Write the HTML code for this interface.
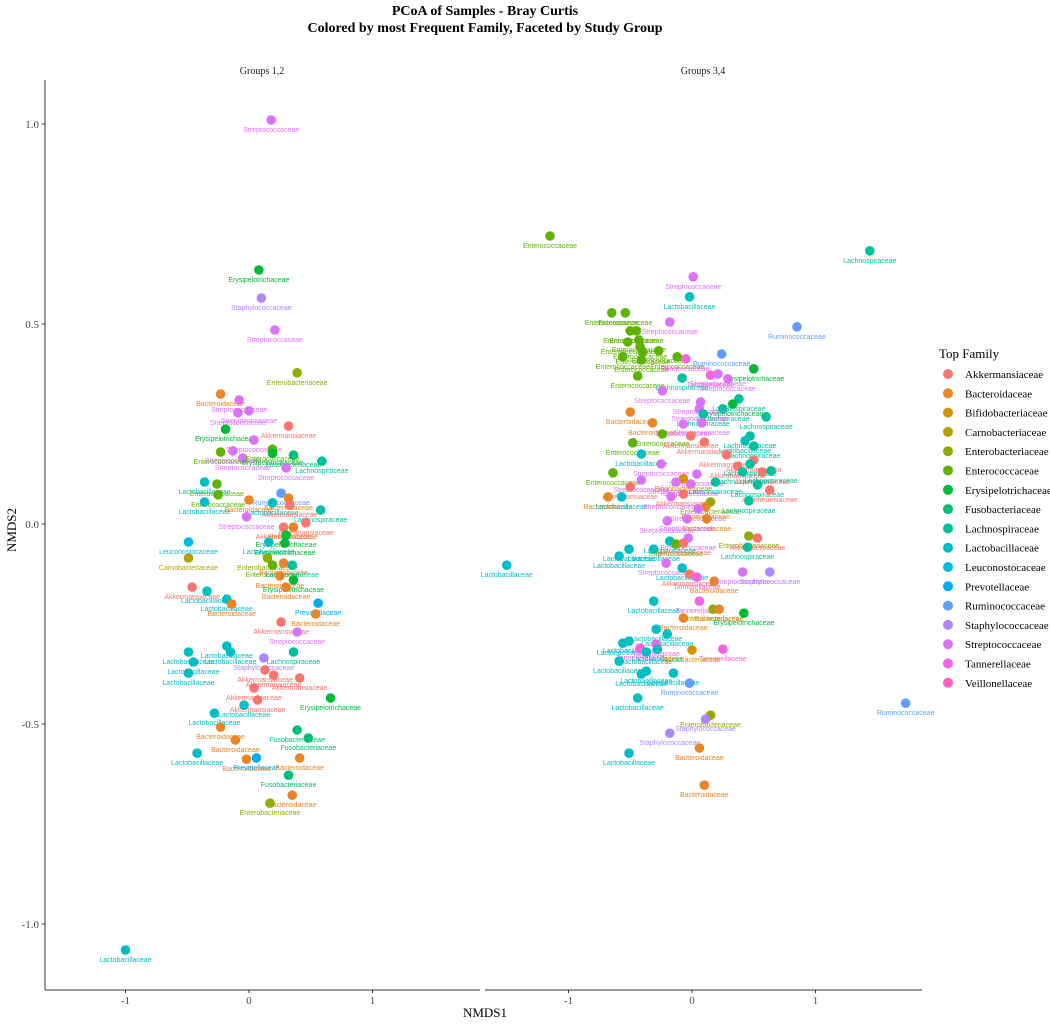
<!DOCTYPE html>
<html><head><meta charset="utf-8"><style>
body{margin:0;background:#fff;}
svg{display:block;}
.ttl{font-family:"Liberation Serif",serif;font-weight:bold;font-size:14px;}
.ax{font-family:"Liberation Serif",serif;font-size:11px;fill:#4d4d4d;}
.axt{font-family:"Liberation Serif",serif;font-size:13px;fill:#000;}
.lg{font-family:"Liberation Serif",serif;font-size:11px;fill:#000;}
.pl{font-family:"Liberation Sans",sans-serif;font-size:7px;}
</style></head><body>
<svg id="chart" width="1050" height="1026">
<text class="ttl" x="485" y="15" text-anchor="middle">PCoA of Samples - Bray Curtis</text>
<text class="ttl" x="485" y="32" text-anchor="middle">Colored by most Frequent Family, Faceted by Study Group</text>
<text class="ax" x="262" y="74" text-anchor="middle" style="font-size:10px;fill:#1a1a1a">Groups 1,2</text>
<text class="ax" x="703" y="74" text-anchor="middle" style="font-size:10px;fill:#1a1a1a">Groups 3,4</text>
<text class="axt" x="485" y="1017" text-anchor="middle">NMDS1</text>
<text class="axt" x="16" y="530" text-anchor="middle" transform="rotate(-90 16 530)">NMDS2</text>
<g id="axes"></g><g id="marks"></g><g id="legend"></g>
</svg>
<script>
const families=["Akkermansiaceae","Bacteroidaceae","Bifidobacteriaceae","Carnobacteriaceae","Enterobacteriaceae","Enterococcaceae","Erysipelotrichaceae","Fusobacteriaceae","Lachnospiraceae","Lactobacillaceae","Leuconostocaceae","Prevotellaceae","Ruminococcaceae","Staphylococcaceae","Streptococcaceae","Tannerellaceae","Veillonellaceae"];
const familyColors=["#F8766D","#E88526","#D39200","#B79F00","#93AA00","#5EB300","#00BA38","#00BF74","#00C19F","#00BFC4","#00B9E3","#00ADFA","#619CFF","#AE87FF","#DB72FB","#F564E3","#FF61C3"];
const xTicks=[-1,0,1];
const yTicks=[-1.0,-0.5,0.0,0.5,1.0];
const leftX=[0.18,0.08,0.10,0.21,0.39,-0.23,-0.08,-0.09,0,0.32,-0.19,0.04,-0.13,-0.23,-0.05,0.19,0.19,0.36,0.59,0.30,-0.36,-0.26,-0.25,-0.36,0,0.26,0.32,0.19,0.33,0.58,-0.02,0.28,0.36,0.46,0.30,0.16,0.29,-0.49,-0.49,0.15,0.19,0.28,0.35,0.25,0.36,0.30,-0.46,-0.34,-0.18,-0.14,0.56,0.54,0.26,0.39,-0.18,-0.15,-0.49,-0.45,-0.49,0.12,0.36,0.13,0.20,0.41,0.04,0.07,-0.04,0.66,-0.28,-0.23,-0.11,0.39,0.48,-0.42,-0.02,0.06,0.41,0.32,0.35,0.17,-1.0];
const leftY=[1.01,0.635,0.565,0.485,0.378,0.325,0.31,0.278,0.283,0.245,0.237,0.21,0.183,0.18,0.165,0.187,0.177,0.172,0.157,0.14,0.105,0.10,0.073,0.055,0.06,0.077,0.065,0.053,0.047,0.035,0.018,-0.008,-0.008,0.003,-0.028,-0.045,-0.048,-0.045,-0.085,-0.085,-0.103,-0.098,-0.103,-0.13,-0.14,-0.158,-0.158,-0.168,-0.188,-0.20,-0.198,-0.225,-0.245,-0.27,-0.305,-0.32,-0.32,-0.345,-0.373,-0.335,-0.32,-0.365,-0.378,-0.385,-0.41,-0.44,-0.453,-0.435,-0.473,-0.508,-0.54,-0.515,-0.535,-0.573,-0.588,-0.585,-0.585,-0.628,-0.678,-0.698,-1.065];
const leftFam=[14,6,13,14,4,1,14,14,14,0,6,14,14,5,14,5,6,7,8,14,9,5,5,9,1,12,1,9,0,8,14,0,1,0,6,9,6,10,3,4,5,1,8,1,6,1,0,9,9,1,11,1,0,14,9,9,9,9,9,13,8,0,0,0,0,0,9,6,9,1,1,7,7,9,1,11,1,7,1,4,9];
const rightX=[-1.15,1.44,0.01,-0.02,-1.50,1.73,0.85,0.10,-0.65,-0.54,-0.18,-0.50,-0.45,-0.52,-0.43,-0.42,-0.40,-0.56,-0.41,-0.27,-0.12,-0.44,-0.05,0.24,0.50,-0.08,0.15,0.21,0.29,-0.24,0.38,0.33,0.25,0.07,0.06,0.09,0.60,-0.50,-0.32,-0.07,0.08,-0.24,-0.48,-0.01,0.10,0.47,0.43,0.50,-0.41,0.28,0.50,0.37,0.47,-0.25,-0.64,0.04,0.41,0.57,0.64,-0.41,-0.07,-0.13,-0.01,0.19,0.53,-0.50,0.63,-0.07,-0.68,-0.57,-0.17,0.15,0.11,0.05,0.46,-0.20,-0.04,0.12,-0.03,-0.18,-0.13,-0.07,-0.31,-0.51,-0.59,0.46,0.53,0.45,-0.21,-0.08,-0.02,0.04,0.18,0.41,0.63,-0.31,0.06,0.17,0.22,0.42,-0.07,-0.29,-0.20,-0.51,-0.56,-0.42,-0.29,-0.37,-0.28,0.0,0.25,-0.59,-0.41,-0.37,-0.15,-0.02,-0.44,0.15,0.11,-0.18,0.06,-0.51];
const rightY=[0.72,0.683,0.618,0.568,-0.103,-0.448,0.493,-0.653,0.528,0.528,0.505,0.483,0.483,0.455,0.46,0.443,0.43,0.418,0.41,0.433,0.418,0.37,0.413,0.425,0.388,0.365,0.372,0.375,0.363,0.333,0.313,0.30,0.288,0.305,0.288,0.275,0.268,0.28,0.253,0.25,0.253,0.225,0.203,0.22,0.205,0.22,0.208,0.195,0.175,0.173,0.16,0.145,0.15,0.15,0.128,0.125,0.13,0.13,0.133,0.11,0.113,0.105,0.10,0.105,0.098,0.093,0.085,0.075,0.068,0.068,0.068,0.055,0.043,0.038,0.058,0.008,0.013,0.013,-0.035,-0.043,-0.05,-0.048,-0.063,-0.063,-0.08,-0.03,-0.035,-0.058,-0.098,-0.11,-0.125,-0.133,-0.143,-0.12,-0.12,-0.193,-0.193,-0.213,-0.213,-0.223,-0.235,-0.263,-0.275,-0.293,-0.298,-0.31,-0.30,-0.32,-0.313,-0.315,-0.313,-0.343,-0.375,-0.368,-0.373,-0.398,-0.435,-0.478,-0.488,-0.523,-0.56,-0.573];
const rightFam=[5,8,14,9,9,12,12,1,5,5,14,5,5,5,5,5,5,5,5,5,5,5,15,12,6,8,15,14,14,14,8,6,8,14,14,8,8,1,1,14,14,5,5,0,0,8,9,8,9,0,0,0,8,14,5,14,8,0,8,14,2,14,14,8,8,0,0,0,1,9,14,4,1,14,8,14,14,1,14,9,5,0,9,9,9,4,0,8,14,9,0,15,1,14,13,9,15,4,1,6,1,9,9,9,9,15,15,9,9,2,15,9,9,9,9,12,9,4,13,13,1,9];

const NS="http://www.w3.org/2000/svg";
const Y0=524, YS=400, XS=123.5;
const panels=[{x0:249,l:45,r:480,X:leftX,Y:leftY,F:leftFam,n:'left'},{x0:692,l:485,r:922,X:rightX,Y:rightY,F:rightFam,n:'right'}];
function sy(v){return Y0-v*YS;}
function mk(tag,attrs,parent){const e=document.createElementNS(NS,tag);for(const k in attrs)e.setAttribute(k,attrs[k]);parent.appendChild(e);return e;}
const axes=document.getElementById('axes'),marks=document.getElementById('marks'),legend=document.getElementById('legend');
let yl=mk('line',{x1:45,x2:45,y1:80,y2:990,stroke:'#333','stroke-width':1},axes);


yTicks.forEach(t=>{
  const tk=mk('line',{x1:42,x2:45,y1:sy(t),y2:sy(t),stroke:'#333'},axes);
  
  
  const tx=mk('text',{x:39,y:sy(t)+4,'text-anchor':'end',class:'ax'},axes);
  tx.textContent=t.toFixed(1);
  
  
});
panels.forEach(p=>{
  const xl=mk('line',{x1:p.l,x2:p.r,y1:990,y2:990,stroke:'#333'},axes);
  
  
  xTicks.forEach(t=>{
    const px=p.x0+t*XS;
    const tk=mk('line',{x1:px,x2:px,y1:990,y2:993,stroke:'#333'},axes);
    
    
    const tx=mk('text',{x:px,y:1004,'text-anchor':'middle',class:'ax'},axes);
    tx.textContent=String(t);
    
    
  });
  const g=mk('g',{},marks);
  
  
  p.X.forEach((xv,i)=>{
    const cx=p.x0+xv*XS, cy=sy(p.Y[i]), col=familyColors[p.F[i]];
    const c=mk('circle',{cx:cx,cy:cy,r:4.8,fill:col},g);
    
    
    const t=mk('text',{x:cx,y:cy+12,'text-anchor':'middle',class:'pl',fill:col},g);
    t.textContent=families[p.F[i]];
    
    
  });
});
const lt=mk('text',{x:939,y:358,class:'lg',style:'font-size:13px'},legend);
lt.textContent='Top Family';


families.forEach((f,i)=>{
  const y=374+i*19.3;
  const c=mk('circle',{cx:948,cy:y,r:5,fill:familyColors[i]},legend);
  
  
  const t=mk('text',{x:965,y:y+4,class:'lg'},legend);
  t.textContent=f;
  
  
});
</script>
</body></html>
